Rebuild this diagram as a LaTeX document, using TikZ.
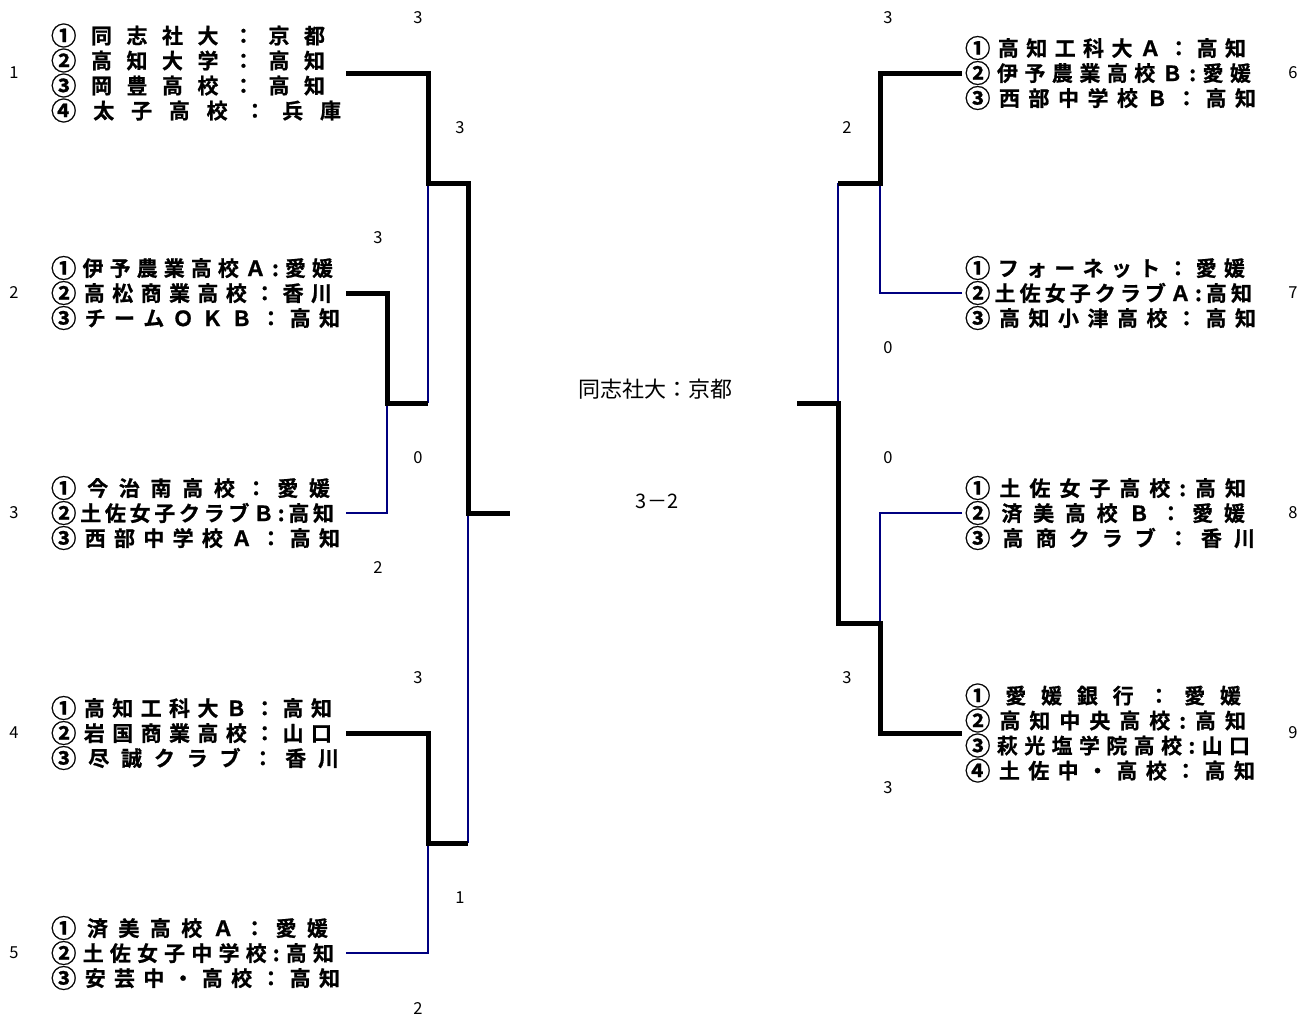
\documentclass[tikz,border=0pt]{standalone}
\usepackage{fontspec}
\usepackage{xcolor}
\newfontfamily\jpfont{Noto Sans CJK JP}[BoldFont={* Bold}, BoldFeatures={FakeBold=0.8}]
\definecolor{losecolor}{RGB}{0,0,128}

% one line of a team box, its characters spread over a given width
\newcommand\jline[2]{\makebox[#1pt][l]{\jfirst#2\relax}}
\def\jfirst#1{\raisebox{-1.6pt}{\fontsize{25.5}{25}\selectfont#1}\jrest}
\def\jrest#1{\ifx#1\relax\else\hfill#1\expandafter\jrest\fi}

\tikzset{
  team/.style={inner sep=0pt, outer xsep=3pt, text width=292pt, align=left,
    font=\jpfont\bfseries\fontsize{21}{25}\selectfont},
  seed/.style={inner sep=0pt, font=\jpfont\fontsize{16.5}{18}\selectfont},
  win/.style={draw=black, line width=5pt},
  lose/.style={draw=losecolor, line width=2.2pt},
}

\begin{document}
\begin{tikzpicture}[x=1pt,y=-1pt]
    \useasboundingbox (0,0) rectangle (1316,1017);

    % left half
    \node[team, anchor=west] (t1) at (48,73) {\jline{274}{①同志社大：京都}\\\jline{274}{②高知大学：高知}\\\jline{274}{③岡豊高校：高知}\\\jline{290}{④太子高校：兵庫}};
    \node[team, anchor=west] (t2) at (48,293) {\jline{282}{①伊予農業高校Ａ:愛媛}\\\jline{281}{②高松商業高校：香川}\\\jline{289}{③チームＯＫＢ：高知}};
    \node[team, anchor=west] (t3) at (48,513) {\jline{279}{①今治南高校：愛媛}\\\jline{283}{②土佐女子クラブＢ:高知}\\\jline{289}{③西部中学校Ａ：高知}};
    \node[team, anchor=west] (t4) at (48,733) {\jline{281}{①高知工科大Ｂ：高知}\\\jline{281}{②岩国商業高校：山口}\\\jline{288}{③尽誠クラブ：香川}};
    \node[team, anchor=west] (t5) at (48,953) {\jline{277}{①済美高校Ａ：愛媛}\\\jline{283}{②土佐女子中学校:高知}\\\jline{289}{③安芸中・高校：高知}};

    % right half
    \node[team, anchor=west] (t6) at (962,73) {\jline{281}{①高知工科大Ａ：高知}\\\jline{286}{②伊予農業高校Ｂ:愛媛}\\\jline{291}{③西部中学校Ｂ：高知}};
    \node[team, anchor=west] (t7) at (962,293) {\jline{280}{①フォーネット：愛媛}\\\jline{287}{②土佐女子クラブＡ:高知}\\\jline{291}{③高知小津高校：高知}};
    \node[team, anchor=west] (t8) at (962,513) {\jline{281}{①土佐女子高校:高知}\\\jline{280}{②済美高校Ｂ：愛媛}\\\jline{290}{③高商クラブ：香川}};
    \node[team, anchor=west] (t9) at (962,733) {\jline{276}{①愛媛銀行：愛媛}\\\jline{281}{②高知中央高校:高知}\\\jline{285}{③萩光塩学院高校:山口}\\\jline{290}{④土佐中・高校：高知}};

    % seed numbers
    \node[seed] (s1) at (14,73) {1};
    \node[seed] (s2) at (14,293) {2};
    \node[seed] (s3) at (14,513) {3};
    \node[seed] (s4) at (14,733) {4};
    \node[seed] (s5) at (14,953) {5};
    \node[seed] (s6) at (1293,73) {6};
    \node[seed] (s7) at (1293,293) {7};
    \node[seed] (s8) at (1293,513) {8};
    \node[seed] (s9) at (1293,733) {9};

    % scores
    \node[seed] (sc1) at (418,18) {3};
    \node[seed] (sc2) at (460,128) {3};
    \node[seed] (sc3) at (378,238) {3};
    \node[seed] (sc4) at (418,458) {0};
    \node[seed] (sc5) at (378,568) {2};
    \node[seed] (sc6) at (418,678) {3};
    \node[seed] (sc7) at (460,898) {1};
    \node[seed] (sc8) at (418,1008) {2};
    \node[seed] (sc9) at (888,18) {3};
    \node[seed] (sc10) at (847,128) {2};
    \node[seed] (sc11) at (888,348) {0};
    \node[seed] (sc12) at (888,458) {0};
    \node[seed] (sc13) at (847,678) {3};
    \node[seed] (sc14) at (888,788) {3};

    % final
    \node[inner sep=0pt, font=\jpfont\fontsize{22}{24}\selectfont] (champ) at (655,389) {同志社大：京都};
    \node[inner sep=0pt, font=\jpfont\fontsize{20}{22}\selectfont] (final) at (657,501) {3－2};

    % junctions
    \coordinate (j23) at (387,403);
    \coordinate (q23) at (428,403);
    \coordinate (j1) at (428,183);
    \coordinate (jL) at (468,513);
    \coordinate (fL) at (510,513);
    \coordinate (j45) at (428,843);
    \coordinate (k45) at (468,843);
    \coordinate (j67) at (880,183);
    \coordinate (k67) at (838,183);
    \coordinate (jR) at (838,403);
    \coordinate (fR) at (797,403);
    \coordinate (j89) at (880,623);

    % losing sides
    \path[lose] (t3.east) -| (j23);
    \path[lose] (q23) -- (j1);
    \path[lose] (t5.east) -| (j45);
    \path[lose] (k45) -- (jL);
    \path[lose] (t7.west) -| (j67);
    \path[lose] (k67) -- (jR);
    \path[lose] (t8.west) -| (j89);

    % winning sides
    \path[win] (t1.east) -| (j1) -| (jL) -- (fL);
    \path[win] (t2.east) -| (j23) -- (q23);
    \path[win] (t4.east) -| (j45) -- (k45);
    \path[win] (t6.west) -| (j67) -- (k67);
    \path[win] (fR) -- (jR) |- (j89) |- (t9.west);
\end{tikzpicture}
\end{document}
